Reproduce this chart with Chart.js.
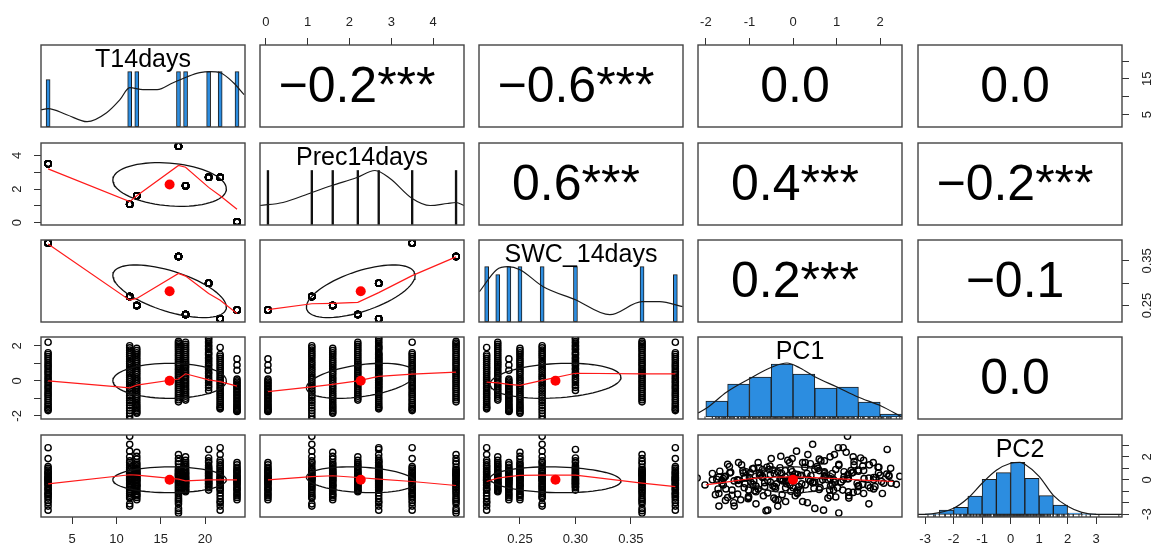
<!DOCTYPE html>
<html>
<head>
<meta charset="utf-8">
<script src="https://cdn.jsdelivr.net/npm/chart.js@4.4.0/dist/chart.umd.min.js"></script>
<style>
  html, body { margin: 0; padding: 0; background: #fff; }
  #stage { position: relative; width: 1152px; height: 547px; overflow: hidden; background: #fff; }
  #stage canvas { position: absolute; }
</style>
</head>
<body>
<div id="stage"></div>
<script>
// variables in the pairs plot
const varNames = ['T14days', 'Prec14days', 'SWC_14days', 'PC1', 'PC2'];

// one value per site
const siteT = [2.3, 11.5, 12.3, 17.0, 17.8, 20.4, 21.7, 23.6];
const sitePrec = [3.5, 1.1, 1.6, 4.55, 2.2, 2.7, 2.7, 0.05];
const siteSWC = [0.39, 0.27, 0.25, 0.36, 0.23, 0.30, 0.22, 0.24];

const pc1BySite = [
  [2.2, 1.6, 1.5, 1.38, 1.27, 1.15, 1.02, 0.9, 0.8, 0.68, 0.55, 0.45, 0.33, 0.2, 0.1, -0.02, -0.12, -0.25, -0.35, -0.46, -0.58, -0.7, -0.8, -0.9, -1.02, -1.12, -1.25, -1.35, -1.45, -1.55, -1.63, -1.7],
  [2.0, 1.88, 1.75, 1.62, 1.5, 1.38, 1.25, 1.1, 0.98, 0.85, 0.72, 0.6, 0.45, 0.32, 0.2, 0.08, -0.05, -0.18, -0.3, -0.44, -0.58, -0.7, -0.85, -0.98, -1.12, -1.25, -1.4, -1.55, -1.7, -1.85, -2.02, -2.2],
  [1.85, 1.72, 1.6, 1.48, 1.35, 1.22, 1.1, 0.98, 0.85, 0.72, 0.6, 0.48, 0.36, 0.22, 0.1, -0.02, -0.15, -0.28, -0.4, -0.52, -0.65, -0.78, -0.9, -1.02, -1.15, -1.28, -1.4, -1.5, -1.6, -1.7, -1.78, -1.85],
  [2.25, 2.15, 2.05, 1.95, 1.85, 1.74, 1.62, 1.5, 1.4, 1.28, 1.17, 1.05, 0.95, 0.84, 0.72, 0.62, 0.5, 0.4, 0.28, 0.17, 0.05, -0.05, -0.17, -0.28, -0.4, -0.5, -0.62, -0.74, -0.85, -0.97, -1.08, -1.2],
  [2.2, 2.08, 1.97, 1.85, 1.74, 1.62, 1.5, 1.38, 1.27, 1.15, 1.05, 0.95, 0.85, 0.74, 0.62, 0.5, 0.4, 0.28, 0.17, 0.05, -0.07, -0.18, -0.3, -0.42, -0.53, -0.65, -0.77, -0.88, -1.0, -1.1],
  [2.45, 2.37, 2.24, 2.16, 2.03, 1.96, 1.84, 1.77, 1.63, 1.55, 1.47, 1.33, 1.26, 1.14, 1.05, 0.93, 0.86, 0.72, 0.64, 0.5, 0.41, 0.27, 0.13, 0.02, -0.11, -0.26, -0.38, -0.55],
  [1.9, 1.5, 1.4, 1.28, 1.17, 1.04, 0.93, 0.8, 0.7, 0.57, 0.46, 0.34, 0.22, 0.11, 0.0, -0.12, -0.23, -0.35, -0.46, -0.58, -0.7, -0.8, -0.92, -1.03, -1.14, -1.25, -1.36, -1.46, -1.54, -1.6],
  [1.25, 0.9, 0.6, 0.1, 0.0, -0.08, -0.17, -0.26, -0.34, -0.43, -0.52, -0.6, -0.68, -0.77, -0.85, -0.93, -1.02, -1.1, -1.18, -1.27, -1.35, -1.43, -1.5, -1.57, -1.63, -1.68, -1.72, -1.75]
];
const pc2BySite = [
  [0.3, -0.4, 0.85, -1.1, 0.1, 2.8, -0.7, 0.55, -1.6, 0.0, 1.15, -0.25, -2.0, 0.4, -0.9, 1.85, -0.1, -1.3, 0.7, -0.55, -2.65, 0.2, -0.8, 1.0, -1.45, 0.15, -0.35, -2.3, 0.6, -1.8, -0.05, -1.2],
  [0.4, -0.6, 1.3, -1.2, 0.75, 2.0, 3.8, -0.2, -1.5, 0.1, 1.65, -0.85, 3.1, 0.55, -0.35, 2.5, -1.0, 0.25, 1.05, -1.6, -0.05, 0.9, -2.1, 0.6, -0.7, 1.5, -1.35, 0.3, -2.3, 0.0, -0.45, 0.15],
  [0.2, -0.5, 1.2, -1.0, 0.6, 2.4, -0.2, 0.9, -1.4, 0.35, 1.8, -0.75, 0.05, 1.5, -1.2, 0.7, -0.35, 2.05, -1.75, 0.45, -0.6, 1.05, -0.1, -1.55, 0.8, 0.0, -0.9, 1.35, -0.45, 0.25, -1.3, 0.55],
  [-0.3, 0.5, -1.2, 1.1, 0.0, -2.1, 0.8, -0.6, 1.6, -1.6, 0.25, -2.9, 2.2, -0.9, 0.6, -0.15, -2.5, 1.4, -0.45, 0.35, -1.4, 0.9, -1.9, 0.1, -0.75, 1.85, -2.7, 0.45, -1.05, -0.2, 0.7, -1.75],
  [0.4, -0.3, 1.1, -0.8, 0.15, 1.7, -0.55, 0.65, -1.05, 0.0, 1.35, -0.2, 2.0, 0.3, -0.7, 0.9, -0.1, 1.5, -0.9, 0.5, -0.45, 0.8, 0.05, -0.6, 1.2, -0.25, 0.6, -0.95, 0.2, -0.35],
  [0.3, -0.4, 1.0, 2.65, -0.15, 0.6, 1.5, -0.7, 0.1, 1.9, -0.3, 0.8, 0.45, -0.9, 1.25, 0.0, -0.55, 0.7, 1.65, -0.2, 0.35, 1.1, -0.6, 0.15, -0.05, 0.55, -0.35, 0.9],
  [0.2, -0.5, 1.3, -1.4, 0.7, 2.8, -0.9, 0.0, -2.65, 1.0, -0.25, 2.2, -1.9, 0.45, -0.7, 1.7, -0.1, -2.3, 0.85, -1.15, 0.3, 1.5, -0.4, -1.65, 0.6, -0.05, -2.0, 1.15, -0.8, 0.1],
  [0.1, -0.4, 0.8, -1.1, 0.3, 1.5, -0.7, 0.0, -1.75, 0.55, -0.2, 1.1, -1.4, 0.4, -0.55, 0.95, -0.9, 0.2, 1.3, -1.25, -0.1, 0.65, -1.55, 0.25, -0.3, 0.75, -0.8, 0.05]
];

// axis ranges and ticks
const varMin = [1.5, -0.14, 0.2131, -2.18, -3.25];
const varMax = [24.5, 4.74, 0.3969, 2.5, 3.91];
const tTicks = [5, 10, 15, 20];
const precTicks = [0, 1, 2, 3, 4];
const swcTicks = [0.25, 0.30, 0.35];
const pc1Ticks = [-2, -1, 0, 1, 2];
const pc2Ticks = [-3, -2, -1, 0, 1, 2, 3];
const varTicks = [tTicks, precTicks, swcTicks, pc1Ticks, pc2Ticks];
// labels that survive on the side axes
const sideLabels = [[5, 15], [0, 2, 4], [0.25, 0.35], [-2, 0, 2], [-3, 0, 2]];

// correlations (upper panels) and ellipse parameters
const corrPairs = [[0, 1], [0, 2], [0, 3], [0, 4], [1, 2], [1, 3], [1, 4], [2, 3], [2, 4], [3, 4]];
const corrR = [-0.2, -0.6, 0.0, 0.0, 0.6, 0.4, -0.2, 0.2, -0.1, 0.0];
const corrStars = ['***', '***', '', '', '***', '***', '***', '***', '', ''];
const varMean = [16.0, 2.27, 0.282, 0.0, 0.0];
const varSd = [6.4, 1.3, 0.059, 1.0, 1.13];

// smoothed (loess) lines
const precGrid = [0.05, 1.1, 1.6, 2.2, 2.7, 3.5, 4.55];
const swcGrid = [0.22, 0.23, 0.24, 0.25, 0.27, 0.30, 0.36, 0.39];
const pc1Grid = [-2.0, -1.5, -0.9, -0.3, 0.0, 0.5, 1.1, 1.7, 2.3];
const smoothTPrec = [3.2, 1.25, 1.6, 3.4, 3.3, 2.1, 1.6, 0.8];
const smoothTSwc = [0.388, 0.262, 0.266, 0.322, 0.316, 0.277, 0.262, 0.232];
const smoothTPc1 = [0.0, -0.4, -0.25, 0.1, 0.4, 0.05, -0.05, -0.3];
const smoothTPc2 = [-0.35, 0.44, 0.4, 0.05, -0.1, 0.0, 0.0, 0.0];
const smoothPrecSwc = [0.241, 0.254, 0.255, 0.257, 0.279, 0.317, 0.359];
const smoothPrecPc1 = [-0.62, -0.35, -0.2, 0.0, 0.25, 0.38, 0.5];
const smoothPrecPc2 = [0.0, 0.27, 0.35, 0.2, 0.05, -0.15, -0.5];
const smoothSwcPc1 = [-0.08, -0.12, -0.2, -0.26, 0.02, 0.43, 0.4, 0.4];
const smoothSwcPc2 = [-0.15, 0.15, 0.27, 0.38, 0.4, 0.4, -0.3, -0.6];
const smoothPc1Pc2 = [-0.45, -0.18, 0.12, 0.24, 0.25, 0.18, 0.08, -0.05, -0.15];

// diagonal histograms (bar heights) and density curves
const tHistX = siteT;
const tHistH = [47, 55, 55, 55, 55, 55, 55, 55];
const precHistX = precGrid;
const precHistH = [54, 54, 54, 54, 54, 54, 54];
const swcHistX = swcGrid;
const swcHistH = [55, 47, 55, 55, 55, 55, 55, 47];
const pc1HistX = [-1.75, -1.25, -0.75, -0.25, 0.25, 0.75, 1.25, 1.75, 2.25];
const pc1HistH = [16, 33, 40, 53, 43, 29, 30, 15, 3];
const pc2HistX = [-2.75, -2.25, -1.75, -1.25, -0.75, -0.25, 0.25, 0.75, 1.25, 1.75, 2.25, 2.75];
const pc2HistH = [0.4, 4.3, 7, 18.3, 35, 41.7, 52, 36, 18.7, 9.3, 1.2, 0.4];
const tDensX = [1.5, 2.3, 4.4, 6.7, 8.9, 10.4, 11.5, 13.0, 14.6, 16.4, 18.0, 19.4, 20.6, 21.7, 23.2, 24.4];
const tDensY = [17, 18, 12, 5, 14, 27, 39, 37, 37, 44, 50, 54, 55, 54, 44, 32];
const precDensX = [-0.14, 0.41, 1.1, 1.58, 2.18, 2.61, 2.97, 3.5, 3.93, 4.34, 4.55, 4.74];
const precDensY = [19, 22, 32, 39, 47, 54, 46, 26, 19, 21, 22, 19];
const swcDensX = [0.2135, 0.229, 0.239, 0.25, 0.271, 0.30, 0.331, 0.36, 0.376, 0.3965];
const swcDensY = [30, 52, 55, 52, 35, 22, 7, 20, 20, 15];
const pc1DensX = [-2.18, -1.98, -1.52, -1.01, -0.48, -0.14, 0.16, 0.51, 1.01, 1.49, 2.02, 2.5];
const pc1DensY = [4, 9, 25, 38, 50, 54, 49, 40, 30, 20, 11, 0];
const pc2DensX = [-3.25, -3, -2.5, -2, -1.5, -1, -0.5, 0, 0.33, 0.5, 1, 1.5, 2, 2.5, 3, 3.91];
const pc2DensY = [0, 0, 1.7, 6, 16, 31, 44, 51, 52, 50, 38, 19, 8, 2, 0, 0];

// layout of the panel grid
const colX = [41, 260, 479, 698, 918];
const rowY = [45, 143, 240, 337, 435];
const boxW = 204, boxH = 82;
const M = 36;   // room around each box inside its canvas
const AX = 30;  // room given to an axis

const histBlue = '#2c8de0';
const fontFamily = '"Liberation Sans", Arial, Helvetica, sans-serif';
Chart.defaults.font.family = fontFamily;
Chart.defaults.color = '#222';

// all observations as [T, Prec, SWC, PC1, PC2]
const obs = [];
siteT.forEach((t, s) => {
  pc1BySite[s].forEach((v, k) => obs.push([t, sitePrec[s], siteSWC[s], v, pc2BySite[s][k]]));
});

const smoothers = {
  '1,0': [siteT, smoothTPrec], '2,0': [siteT, smoothTSwc], '3,0': [siteT, smoothTPc1], '4,0': [siteT, smoothTPc2],
  '2,1': [precGrid, smoothPrecSwc], '3,1': [precGrid, smoothPrecPc1], '4,1': [precGrid, smoothPrecPc2],
  '3,2': [swcGrid, smoothSwcPc1], '4,2': [swcGrid, smoothSwcPc2], '4,3': [pc1Grid, smoothPc1Pc2]
};

const diagSpecs = [
  {hx: tHistX, hy: tHistH, dx: tDensX, dy: tDensY, base: -0.3, thick: 4, fill: histBlue, border: 1},
  {hx: precHistX, hy: precHistH, dx: precDensX, dy: precDensY, base: -0.5, thick: 1.7, fill: '#111', border: 0},
  {hx: swcHistX, hy: swcHistH, dx: swcDensX, dy: swcDensY, base: -0.3, thick: 4, fill: histBlue, border: 1},
  {hx: pc1HistX, hy: pc1HistH, dx: pc1DensX, dy: pc1DensY, base: -2, rug: 3},
  {hx: pc2HistX, hy: pc2HistH, dx: pc2DensX, dy: pc2DensY, base: -2.7, rug: 4}
];

const fmtTick = (k, v) => (k === 2 ? v.toFixed(2) : String(v));
const zip = (xs, ys) => xs.map((x, i) => ({x: x, y: ys[i]}));

function corrIndex(i, j) {
  return corrPairs.findIndex(p => p[0] === Math.min(i, j) && p[1] === Math.max(i, j));
}

function ellipsePoints(mx, my, sx, sy, r) {
  const d = Math.acos(r), pts = [];
  for (let i = 0; i <= 72; i++) {
    const a = i / 72 * 2 * Math.PI;
    pts.push({x: mx + sx * Math.cos(a), y: my + sy * Math.cos(a - d)});
  }
  return pts;
}

// frame, big correlation text, diagonal name, rotated side labels
const decor = {
  id: 'decor',
  afterDatasetsDraw(chart, args, opts) {
    const a = chart.chartArea, ctx = chart.ctx;
    const cx = (a.left + a.right) / 2, cy = (a.top + a.bottom) / 2;
    ctx.save();
    ctx.fillStyle = '#000';
    if (opts.corr) {
      ctx.font = '50px ' + fontFamily;
      ctx.textAlign = 'center';
      ctx.textBaseline = 'middle';
      ctx.fillText(opts.corr, cx - 5, cy + 2);
    }
    if (opts.label) {
      ctx.font = '25px ' + fontFamily;
      ctx.textAlign = 'center';
      ctx.textBaseline = 'alphabetic';
      ctx.fillText(opts.label, cx, a.top + 22);
    }
    ctx.strokeStyle = '#444';
    ctx.lineWidth = 1.4;
    ctx.strokeRect(a.left, a.top, a.right - a.left, a.bottom - a.top);
    if (opts.side) {
      const sc = chart.scales[opts.side.scale];
      ctx.font = '13px ' + fontFamily;
      ctx.fillStyle = '#222';
      ctx.textAlign = 'center';
      ctx.textBaseline = 'middle';
      opts.side.values.forEach(v => {
        const y = sc.getPixelForValue(v);
        const x = opts.side.left ? a.left - 24 : a.right + 25;
        ctx.save();
        ctx.translate(x, y);
        ctx.rotate(-Math.PI / 2);
        ctx.fillText(fmtTick(opts.side.k, v), 0, 0);
        ctx.restore();
      });
    }
    ctx.restore();
  }
};
Chart.register(decor);

function axisScale(k, horizontal, shown, position) {
  return {
    type: 'linear', min: varMin[k], max: varMax[k], display: shown, position: position,
    offset: false,
    afterBuildTicks: s => { s.ticks = varTicks[k].map(v => ({value: v})); },
    afterFit: s => {
      if (!shown) return;
      if (horizontal) s.height = AX; else s.width = AX;
    },
    grid: {display: true, offset: false, drawOnChartArea: false, drawTicks: true, tickLength: 7, tickColor: '#333', tickWidth: 1},
    border: {display: false},
    ticks: {display: horizontal, autoSkip: false, maxRotation: 0, minRotation: 0, padding: 8,
      color: '#222', font: {size: 13}, callback: v => fmtTick(k, v)}
  };
}

const stage = document.getElementById('stage');

function addPanel(row, col) {
  const cv = document.createElement('canvas');
  cv.width = boxW + 2 * M;
  cv.height = boxH + 2 * M;
  cv.style.left = (colX[col] - M) + 'px';
  cv.style.top = (rowY[row] - M) + 'px';
  stage.appendChild(cv);

  const xTop = row === 0 && col % 2 === 1;
  const xBottom = row === 4 && col % 2 === 0;
  const yLeft = col === 0 && row % 2 === 1;
  const yRight = col === 4 && row % 2 === 0;

  const scales = {x: axisScale(col, true, xTop || xBottom, xTop ? 'top' : 'bottom')};
  const decorOpts = {};
  let type = 'scatter';
  let datasets = [];

  if (row === col) {
    const d = diagSpecs[col];
    type = 'bar';
    scales.y = {type: 'linear', display: false, min: d.base, max: d.base + boxH};
    if (yRight) {
      scales.yr = axisScale(row, false, true, 'right');
      decorOpts.side = {scale: 'yr', left: false, values: sideLabels[row], k: row};
    }
    decorOpts.label = varNames[col];
    datasets.push({type: 'line', data: zip(d.dx, d.dy), borderColor: '#1a1a1a', borderWidth: 1.2,
      pointRadius: 0, tension: 0.4, cubicInterpolationMode: 'monotone', yAxisID: 'y'});
    const bar = {type: 'bar', data: zip(d.hx, d.hy), backgroundColor: d.fill || histBlue,
      borderColor: '#1c1c1c', borderWidth: d.border === undefined ? 1 : d.border, borderSkipped: false,
      grouped: false, yAxisID: 'y'};
    if (d.thick) bar.barThickness = d.thick;
    else { bar.barPercentage = 1; bar.categoryPercentage = 1; }
    datasets.push(bar);
    if (d.rug !== undefined) {
      datasets.push({type: 'line', showLine: false, data: obs.map(o => ({x: o[d.rug], y: d.base / 2})),
        pointStyle: 'line', rotation: 90, pointRadius: 1.6, borderColor: '#333', borderWidth: 1, yAxisID: 'y'});
    }
  } else {
    scales.y = axisScale(row, false, yLeft || yRight, yLeft ? 'left' : 'right');
    if (yLeft || yRight) decorOpts.side = {scale: 'y', left: yLeft, values: sideLabels[row], k: row};
    const ci = corrIndex(row, col);
    if (row < col) {
      const r = corrR[ci];
      decorOpts.corr = (r < 0 ? '\u2212' : '') + Math.abs(r).toFixed(1) + corrStars[ci];
    } else {
      const sm = smoothers[row + ',' + col];
      datasets = [
        {data: [{x: varMean[col], y: varMean[row]}], pointRadius: 5, backgroundColor: '#ff0000', borderColor: '#ff0000', borderWidth: 0},
        {data: zip(sm[0], sm[1]), showLine: true, borderColor: '#ff1a1a', borderWidth: 1.2, pointRadius: 0,
          tension: row === 4 && col === 3 ? 0.4 : 0},
        {data: ellipsePoints(varMean[col], varMean[row], varSd[col], varSd[row], corrR[ci]), showLine: true,
          borderColor: '#111', borderWidth: 1.3, pointRadius: 0, tension: 0},
        {data: obs.map(o => ({x: o[col], y: o[row]})), pointRadius: 3.1, borderColor: '#000', borderWidth: 1.4,
          backgroundColor: 'rgba(0,0,0,0)'}
      ];
    }
  }

  new Chart(cv, {
    type: type,
    data: {datasets: datasets},
    options: {
      responsive: false,
      animation: false,
      events: [],
      layout: {padding: {
        left: M - (yLeft ? AX : 0), right: M - (yRight ? AX : 0),
        top: M - (xTop ? AX : 0), bottom: M - (xBottom ? AX : 0)
      }},
      plugins: {legend: {display: false}, tooltip: {enabled: false}, decor: decorOpts},
      scales: scales
    }
  });
}

for (let r = 0; r < 5; r++) {
  for (let c = 0; c < 5; c++) addPanel(r, c);
}
</script>
</body>
</html>
